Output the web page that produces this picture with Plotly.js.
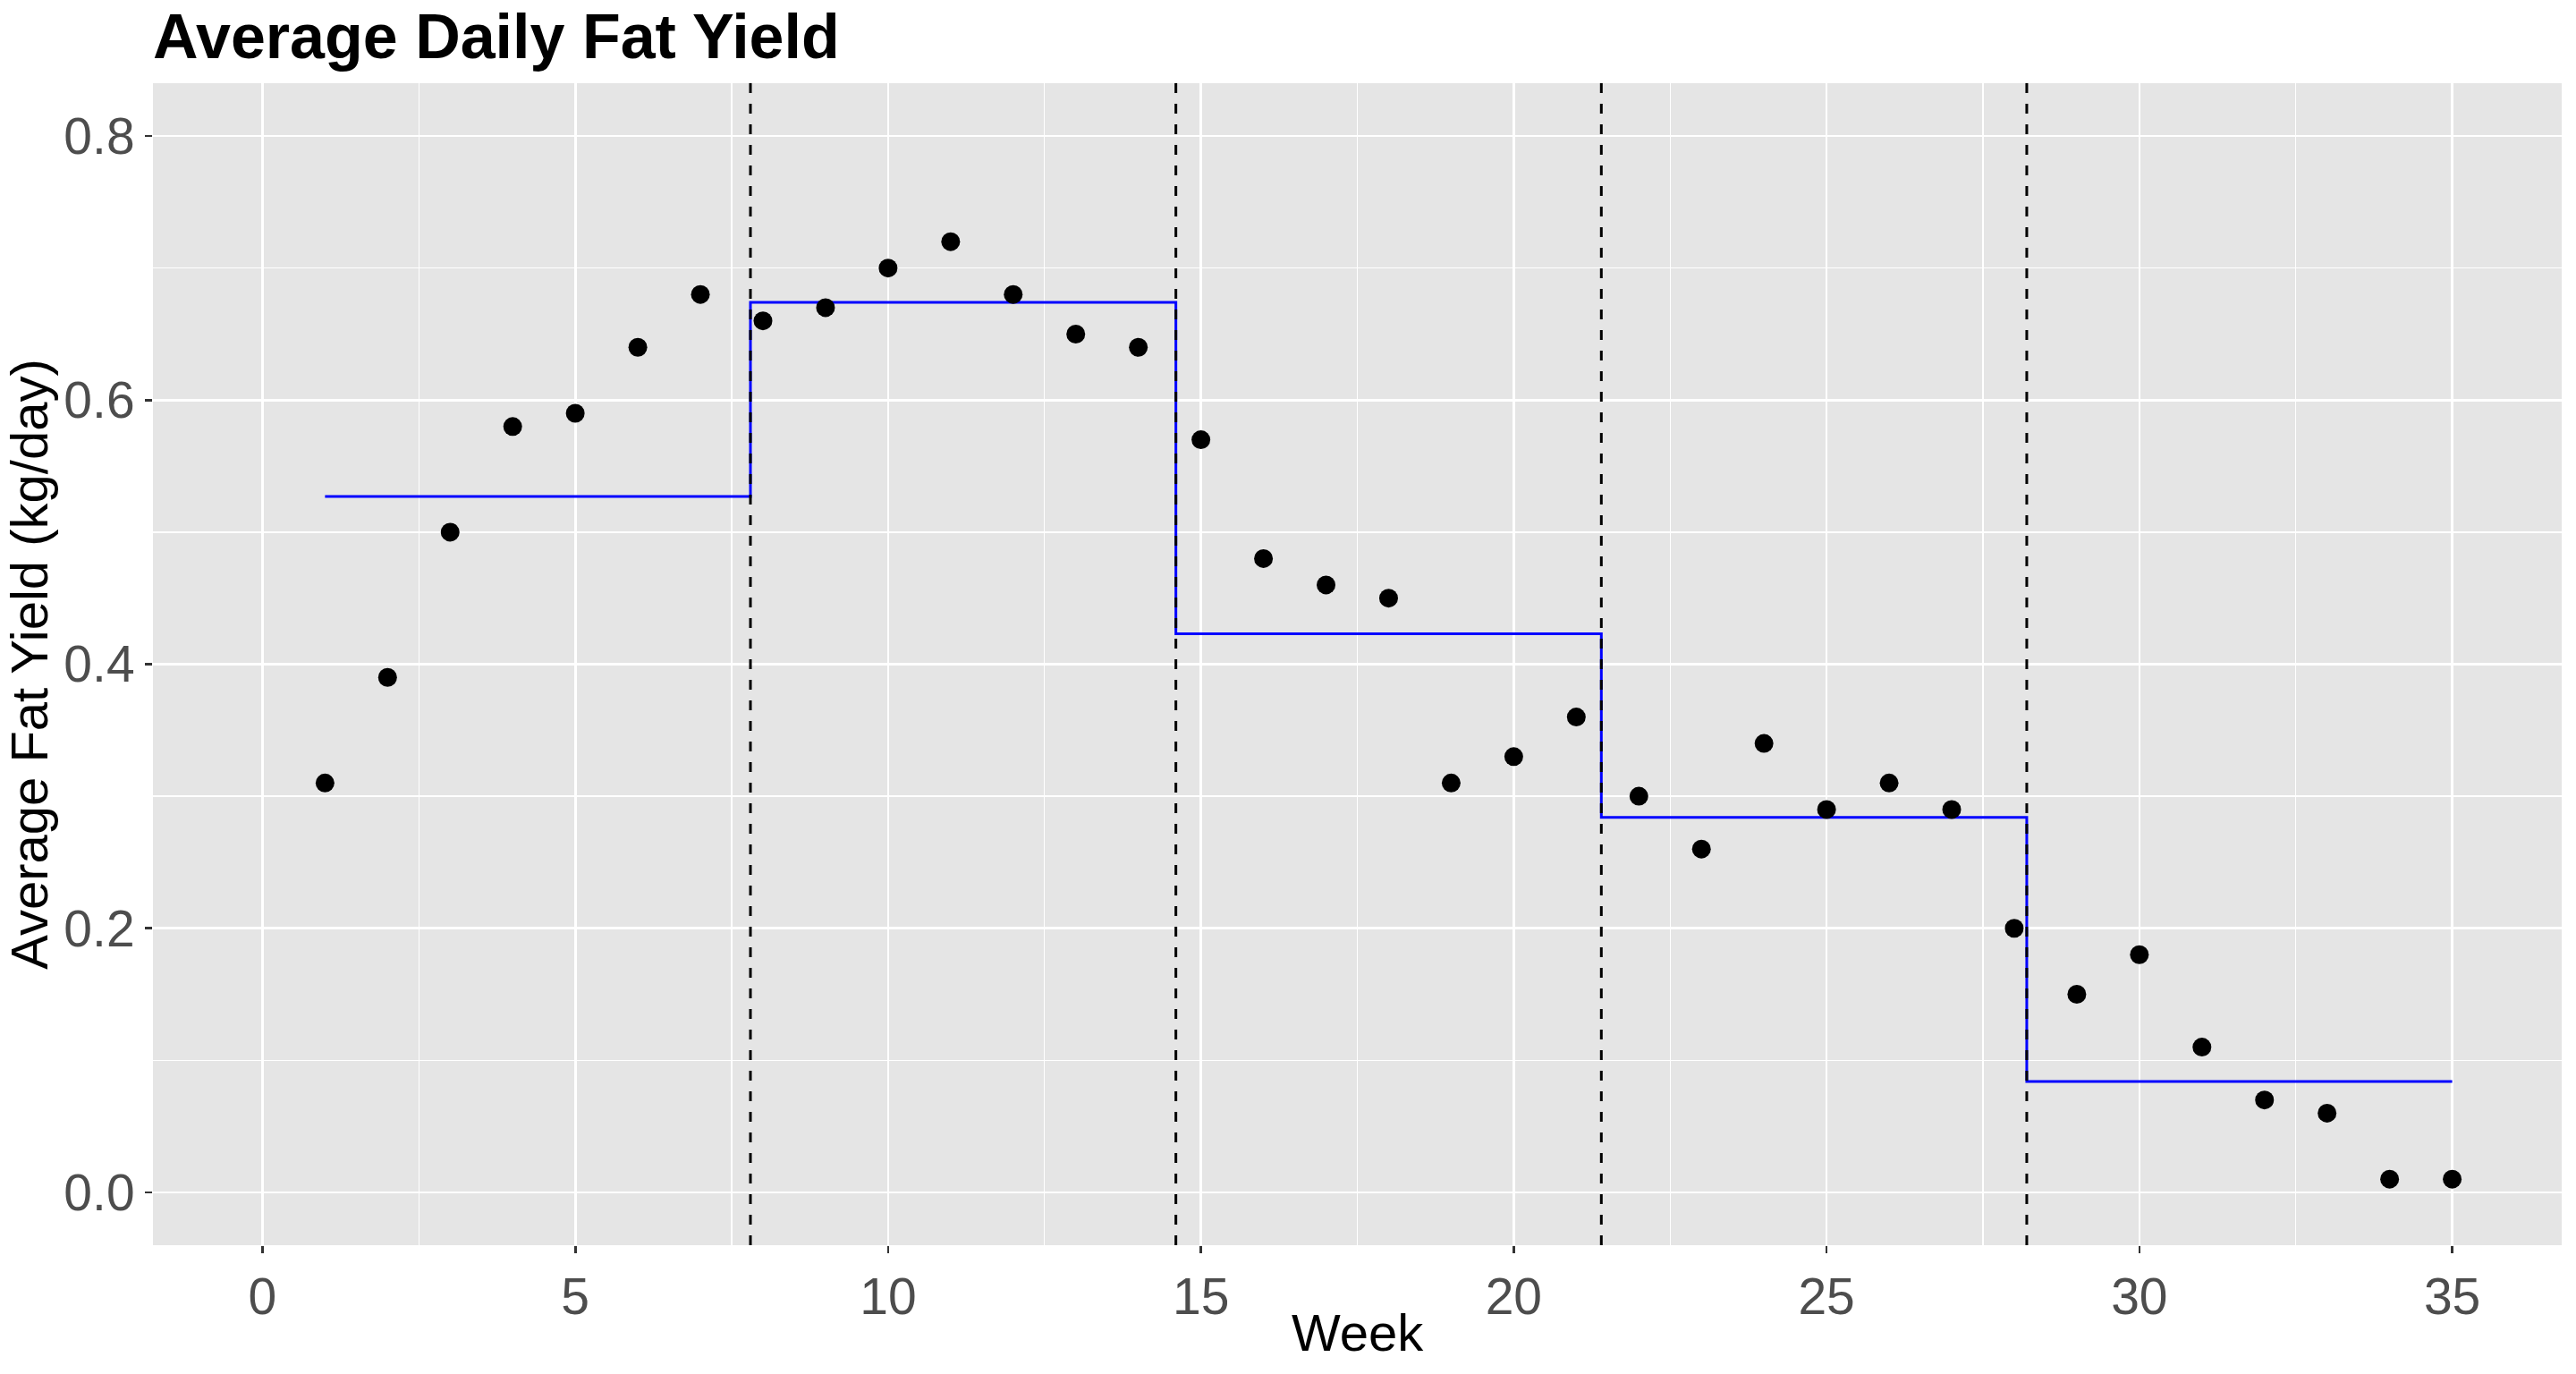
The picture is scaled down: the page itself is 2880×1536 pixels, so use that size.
<!DOCTYPE html>
<html>
<head>
<meta charset="utf-8">
<script src="https://cdn.plot.ly/plotly-3.0.1.min.js"></script>
<style>
  html, body { margin: 0; padding: 0; background: #ffffff; }
  #chart { width: 2880px; height: 1536px; }
</style>
</head>
<body>
<div id="chart"></div>
<script>
// Observed data
const weeks = [1,2,3,4,5,6,7,8,9,10,11,12,13,14,15,16,17,18,19,20,21,22,23,24,25,26,27,28,29,30,31,32,33,34,35];
const fatYield = [0.31,0.39,0.50,0.58,0.59,0.64,0.68,
                  0.66,0.67,0.70,0.72,0.68,0.65,0.64,
                  0.57,0.48,0.46,0.45,0.31,0.33,0.36,
                  0.30,0.26,0.34,0.29,0.31,0.29,0.20,
                  0.15,0.18,0.11,0.07,0.06,0.01,0.01];

// Segment boundaries (week) and segment level (kg/day)
const segmentBreaks = [1, 7.8, 14.6, 21.4, 28.2, 35];
const segmentLevels = [0.527, 0.674, 0.423, 0.284, 0.084];

// Dashed change-point lines
const changePoints = [7.8, 14.6, 21.4, 28.2];

// Tick labels
const xTicks = [0, 5, 10, 15, 20, 25, 30, 35];
const yTicks = [0.0, 0.2, 0.4, 0.6, 0.8];
const yTickText = ['0.0', '0.2', '0.4', '0.6', '0.8'];

// Build step line from segments
const stepX = [], stepY = [];
for (let i = 0; i < segmentLevels.length; i++) {
  stepX.push(segmentBreaks[i], segmentBreaks[i + 1]);
  stepY.push(segmentLevels[i], segmentLevels[i]);
}

const FONT = 'Liberation Sans, Arial, Helvetica, sans-serif';

const traces = [
  {
    type: 'scatter', mode: 'lines', x: stepX, y: stepY,
    line: { color: '#0000FF', width: 3, shape: 'linear' },
    hoverinfo: 'skip', showlegend: false
  },
  {
    type: 'scatter', mode: 'markers', x: weeks, y: fatYield,
    marker: { color: '#000000', size: 21 },
    showlegend: false
  }
];

const shapes = changePoints.map(cp => ({
  type: 'line', xref: 'x', yref: 'paper', x0: cp, x1: cp, y0: 0, y1: 1,
  line: { color: '#000000', width: 3, dash: '11px,12px' }, layer: 'above'
}));

const axisCommon = {
  showgrid: true, gridcolor: '#FFFFFF', gridwidth: 2.7,
  zeroline: false, showline: false,
  ticks: 'outside', ticklen: 8, tickwidth: 2.7, tickcolor: '#333333',
  tickfont: { family: FONT, size: 57, color: '#4D4D4D' },
  automargin: false
};

const layout = {
  width: 2880, height: 1536,
  paper_bgcolor: '#FFFFFF', plot_bgcolor: '#E5E5E5',
  margin: { l: 171, r: 16, t: 93, b: 144, pad: 0 },
  font: { family: FONT },
  title: {
    text: '<b>Average Daily Fat Yield</b>',
    font: { family: FONT, size: 70, color: '#000000' },
    xref: 'paper', x: 0, xanchor: 'left',
    yref: 'container', y: 1 - 40 / 1536, yanchor: 'middle'
  },
  xaxis: Object.assign({}, axisCommon, {
    range: [-1.75, 36.75], tickmode: 'array', tickvals: xTicks,
    ticktext: xTicks.map(String),
    minor: { dtick: 2.5, tick0: 0, showgrid: true, gridcolor: '#FFFFFF', gridwidth: 1.35, ticks: '' }
  }),
  yaxis: Object.assign({}, axisCommon, {
    range: [-0.04, 0.84], tickmode: 'array', tickvals: yTicks, ticktext: yTickText,
    minor: { dtick: 0.1, tick0: 0, showgrid: true, gridcolor: '#FFFFFF', gridwidth: 1.35, ticks: '' },
    title: { text: 'Average Fat Yield (kg/day)', font: { family: FONT, size: 58, color: '#000000' }, standoff: 12 }
  }),
  annotations: [{
    text: 'Week', xref: 'paper', yref: 'paper', x: 0.5, y: -0.0747,
    xanchor: 'center', yanchor: 'middle', showarrow: false,
    font: { family: FONT, size: 58, color: '#000000' }
  }],
  shapes: shapes,
  showlegend: false
};

Plotly.newPlot('chart', traces, layout, { displayModeBar: false, staticPlot: true });
</script>
</body>
</html>
